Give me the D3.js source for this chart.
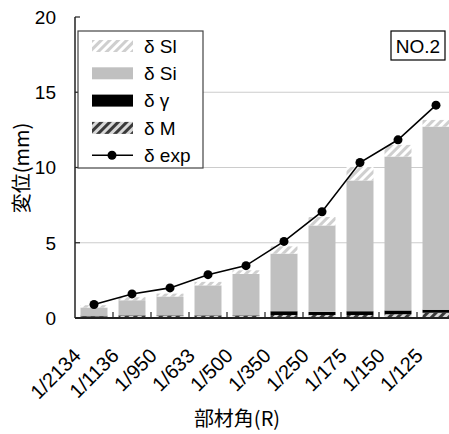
<!DOCTYPE html>
<html>
<head>
<meta charset="utf-8">
<script src="https://cdn.jsdelivr.net/npm/d3@7"></script>
<style>
  body { margin: 0; background: #fff; }
  text { font-family: "Liberation Sans", Arial, "Noto Sans CJK JP", sans-serif; fill: #000; }
  .jp { font-family: "Noto Sans CJK JP", sans-serif; }
</style>
</head>
<body>
<div id="chart"></div>
<script>
// categories (部材角 R)
const categories = ["1/2134", "1/1136", "1/950", "1/633", "1/500", "1/350", "1/250", "1/175", "1/150", "1/125"];
// stacked components (mm)
const dM     = [0.10, 0.15, 0.15, 0.15, 0.15, 0.20, 0.20, 0.20, 0.25, 0.35];
const dGamma = [0.05, 0.03, 0.03, 0.03, 0.03, 0.25, 0.20, 0.25, 0.25, 0.20];
const dSi    = [0.55, 1.00, 1.25, 1.99, 2.75, 3.83, 5.75, 8.69, 10.23, 12.17];
const dSl    = [0.15, 0.20, 0.19, 0.23, 0.24, 0.48, 0.56, 0.89, 0.77, 0.44];
// measured
const dExp   = [0.90, 1.60, 2.00, 2.88, 3.48, 5.09, 7.06, 10.33, 11.84, 14.14];
const yTicks = [0, 5, 10, 15, 20];

const width = 449, height = 434;
const plotL = 75, plotR = 455, plotT = 17, plotB = 318;

const svg = d3.select("#chart").append("svg")
    .attr("width", width)
    .attr("height", height);

// hatch patterns
const defs = svg.append("defs");
function hatch(id, bg, fg, w) {
    const p = defs.append("pattern")
        .attr("id", id)
        .attr("patternUnits", "userSpaceOnUse")
        .attr("width", 6).attr("height", 6)
        .attr("patternTransform", "rotate(45)");
    p.append("rect").attr("width", 6).attr("height", 6).attr("fill", bg);
    p.append("rect").attr("width", w).attr("height", 6).attr("fill", fg);
}
hatch("patSl", "#ffffff", "#cfcfcf", 3);
hatch("patM", "#d8d8d8", "#3a3a3a", 3);

const x = d3.scaleBand().domain(categories).range([plotL, plotR]).paddingInner(0.29).paddingOuter(0.145);
const xb = d3.scaleBand().domain(categories).range([plotL, plotR]);
const y = d3.scaleLinear().domain([0, 20]).range([plotB, plotT]);

// gridlines
svg.append("g")
    .selectAll("line")
    .data(yTicks.filter(d => d > 0 && d < 20))
    .enter().append("line")
    .attr("x1", plotL).attr("x2", width)
    .attr("y1", d => y(d)).attr("y2", d => y(d))
    .attr("stroke", "#cccccc")
    .attr("stroke-width", 1.2);

// stacked bars
const series = [
    { key: "M", vals: dM, fill: "url(#patM)" },
    { key: "g", vals: dGamma, fill: "#000000" },
    { key: "Si", vals: dSi, fill: "#c0c0c0" },
    { key: "Sl", vals: dSl, fill: "url(#patSl)" }
];
const rows = categories.map((c, i) => {
    const r = { cat: c };
    series.forEach(s => r[s.key] = s.vals[i]);
    return r;
});
const stack = d3.stack().keys(series.map(s => s.key))(rows);

svg.append("g")
    .selectAll("g")
    .data(stack)
    .enter().append("g")
    .attr("fill", (d, i) => series[i].fill)
    .selectAll("rect")
    .data(d => d)
    .enter().append("rect")
    .attr("x", d => x(d.data.cat))
    .attr("width", x.bandwidth())
    .attr("y", d => y(d[1]))
    .attr("height", d => y(d[0]) - y(d[1]));

// x axis line and inner ticks at category boundaries
svg.append("line")
    .attr("x1", plotL).attr("x2", width)
    .attr("y1", plotB).attr("y2", plotB)
    .attr("stroke", "#222").attr("stroke-width", 2);
svg.append("g")
    .selectAll("line")
    .data(categories.slice(1))
    .enter().append("line")
    .attr("x1", d => xb(d)).attr("x2", d => xb(d))
    .attr("y1", plotB).attr("y2", plotB - 6)
    .attr("stroke", "#222").attr("stroke-width", 1.2);

// y axis
svg.append("line")
    .attr("x1", plotL).attr("x2", plotL)
    .attr("y1", plotT).attr("y2", plotB)
    .attr("stroke", "#222").attr("stroke-width", 1.5);
svg.append("g")
    .selectAll("line")
    .data(yTicks)
    .enter().append("line")
    .attr("x1", plotL).attr("x2", plotL + 5)
    .attr("y1", d => y(d)).attr("y2", d => y(d))
    .attr("stroke", "#222").attr("stroke-width", 1.2);
svg.append("g")
    .selectAll("text")
    .data(yTicks)
    .enter().append("text")
    .attr("x", 56)
    .attr("y", d => y(d))
    .attr("dy", "0.36em")
    .attr("text-anchor", "end")
    .attr("font-size", 19)
    .text(d => d);

// x tick labels
svg.append("g")
    .selectAll("text")
    .data(categories)
    .enter().append("text")
    .attr("transform", d => `translate(${xb(d) + xb.bandwidth() / 2 - 12}, 357) rotate(-45)`)
    .attr("text-anchor", "end")
    .attr("font-size", 20)
    .text(d => d);

// δexp line
const line = d3.line()
    .x((d, i) => xb(categories[i]) + xb.bandwidth() / 2)
    .y(d => y(d));
svg.append("path")
    .datum(dExp)
    .attr("d", line)
    .attr("fill", "none")
    .attr("stroke", "#000")
    .attr("stroke-width", 1.6);
svg.append("g")
    .selectAll("circle")
    .data(dExp)
    .enter().append("circle")
    .attr("cx", (d, i) => xb(categories[i]) + xb.bandwidth() / 2)
    .attr("cy", d => y(d))
    .attr("r", 4.5)
    .attr("fill", "#000");

// axis titles
svg.append("text")
    .attr("class", "jp")
    .attr("transform", "translate(29, 168) rotate(-90)")
    .attr("text-anchor", "middle")
    .attr("font-size", 20)
    .text("変位(mm)");
svg.append("text")
    .attr("class", "jp")
    .attr("x", 237)
    .attr("y", 426)
    .attr("text-anchor", "middle")
    .attr("font-size", 20)
    .text("部材角(R)");

// NO.2 box
svg.append("rect")
    .attr("x", 391).attr("y", 31)
    .attr("width", 54).attr("height", 29)
    .attr("fill", "#fff")
    .attr("stroke", "#000").attr("stroke-width", 1.2);
svg.append("text")
    .attr("x", 418).attr("y", 46)
    .attr("dy", "0.36em")
    .attr("text-anchor", "middle")
    .attr("font-size", 19)
    .text("NO.2");

// legend
const legendItems = [
    { label: "δ Sl", type: "rect", fill: "url(#patSl)" },
    { label: "δ Si", type: "rect", fill: "#c0c0c0" },
    { label: "δ γ", type: "rect", fill: "#000" },
    { label: "δ M", type: "rect", fill: "url(#patM)" },
    { label: "δ exp", type: "line" }
];
const lg = svg.append("g");
lg.append("rect")
    .attr("x", 78).attr("y", 31)
    .attr("width", 125).attr("height", 137)
    .attr("fill", "#fff")
    .attr("stroke", "#444").attr("stroke-width", 1.2);
const li = lg.selectAll("g.item")
    .data(legendItems)
    .enter().append("g")
    .attr("class", "item")
    .attr("transform", (d, i) => `translate(0, ${46 + i * 27.3})`);
li.filter(d => d.type === "rect").append("rect")
    .attr("x", 92).attr("y", -6)
    .attr("width", 41).attr("height", 12)
    .attr("fill", d => d.fill);
li.filter(d => d.type === "line").append("line")
    .attr("x1", 92).attr("x2", 133)
    .attr("stroke", "#000").attr("stroke-width", 1.6);
li.filter(d => d.type === "line").append("circle")
    .attr("cx", 112).attr("r", 4.5).attr("fill", "#000");
li.append("text")
    .attr("x", 144)
    .attr("dy", "0.36em")
    .attr("font-size", 19)
    .text(d => d.label);
</script>
</body>
</html>
